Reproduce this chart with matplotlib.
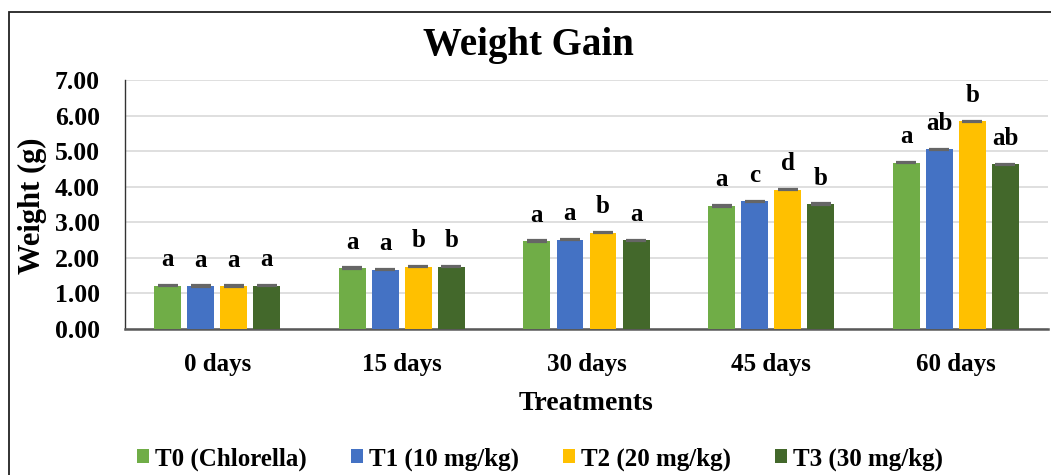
import matplotlib
matplotlib.use("Agg")
import matplotlib.pyplot as plt
import numpy as np
from matplotlib.patches import Rectangle

categories = ["0 days", "15 days", "30 days", "45 days", "60 days"]
series_names = ["T0 (Chlorella)", "T1 (10 mg/kg)", "T2 (20 mg/kg)", "T3 (30 mg/kg)"]
t0 = [1.22, 1.71, 2.47, 3.46, 4.68]
t1 = [1.21, 1.67, 2.51, 3.59, 5.05]
t2 = [1.21, 1.75, 2.71, 3.92, 5.84]
t3 = [1.22, 1.75, 2.49, 3.51, 4.63]
errors_t0 = [0.02, 0.02, 0.02, 0.02, 0.02]
errors_t1 = [0.02, 0.02, 0.02, 0.02, 0.02]
errors_t2 = [0.02, 0.02, 0.02, 0.02, 0.02]
errors_t3 = [0.02, 0.02, 0.02, 0.02, 0.02]
letters_t0 = ["a", "a", "a", "a", "a"]
letters_t1 = ["a", "a", "a", "c", "ab"]
letters_t2 = ["a", "b", "b", "d", "b"]
letters_t3 = ["a", "b", "a", "b", "ab"]
yticks = [0, 1, 2, 3, 4, 5, 6, 7]

colors = ["#70AD47", "#4472C4", "#FFC000", "#43682B"]
values = [t0, t1, t2, t3]
errors = [errors_t0, errors_t1, errors_t2, errors_t3]
letters = [letters_t0, letters_t1, letters_t2, letters_t3]

serif = ["Liberation Serif", "DejaVu Serif"]
plt.rcParams["font.family"] = serif
plt.rcParams["font.weight"] = "bold"

W, H = 1051, 475
fig = plt.figure(figsize=(W / 100, H / 100), dpi=100)
ax = fig.add_axes([125 / W, 1 - 329 / H, (1048 - 125) / W, (329 - 80) / H])

x = np.arange(len(categories))
bw = 0.146
step = 0.179
for i in range(4):
    xs = x + (i - 1.5) * step
    ax.bar(xs, values[i], width=bw, color=colors[i], label=series_names[i], zorder=3)
    ax.errorbar(xs, values[i], yerr=errors[i], fmt="none", ecolor="#666666",
                elinewidth=1.0, capsize=7.5, capthick=1.6, zorder=4)
    for xi, v, lab in zip(xs, values[i], letters[i]):
        ax.annotate(lab, (xi, v), xytext=(0, 14), textcoords="offset points",
                    ha="center", va="baseline", fontsize=18, fontweight="bold")

ax.set_xlim(-0.5, len(categories) - 0.5)
ax.set_ylim(0, 7)
ax.set_yticks(yticks)
ax.set_yticklabels([f"{t:.2f}" for t in yticks])
ax.set_xticks(x)
ax.set_xticklabels(categories)
ax.tick_params(axis="y", length=0, pad=18, labelsize=18.5)
ax.tick_params(axis="x", length=0, pad=17, labelsize=18)
for lab in ax.get_xticklabels() + ax.get_yticklabels():
    lab.set_fontweight("bold")
ax.grid(axis="y", color="#D9D9D9", linewidth=1.2, zorder=0)
ax.set_axisbelow(True)
for s in ["top", "right"]:
    ax.spines[s].set_visible(False)
ax.spines["left"].set_color("#333333")
ax.spines["left"].set_linewidth(1.0)
ax.spines["bottom"].set_color("#595959")
ax.spines["bottom"].set_linewidth(1.8)

fig.text(0.503, 1 - 45 / H, "Weight Gain", ha="center", va="center", fontsize=28, fontweight="bold")
fig.text(586 / W, 1 - 404 / H, "Treatments", ha="center", va="center", fontsize=20, fontweight="bold")
fig.text(32 / W, 1 - 206 / H, "Weight (g)", ha="center", va="center", rotation=90, fontsize=22, fontweight="bold")

leg = fig.legend(loc="center", bbox_to_anchor=(540 / W, 1 - 459 / H), ncol=4, frameon=False,
                 fontsize=18, handlelength=0.48, handleheight=0.48, handletextpad=0.25,
                 columnspacing=1.75, borderpad=0)
for t in leg.get_texts():
    t.set_fontweight("bold")

fig.patches.append(Rectangle((9 / W, -0.1), 1.2, 1 - 12 / H + 0.1, transform=fig.transFigure,
                             fill=False, edgecolor="#222222", linewidth=1.3, zorder=10))

fig.savefig("out.png", dpi=100)
